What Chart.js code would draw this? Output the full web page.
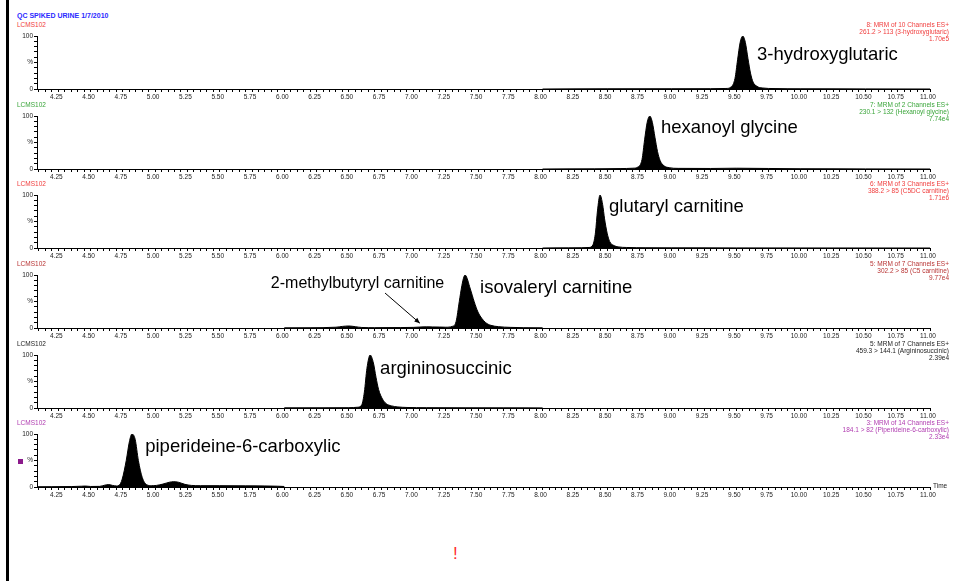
<!DOCTYPE html>
<html>
<head>
<meta charset="utf-8">
<script src="https://cdn.jsdelivr.net/npm/chart.js@4.4.1/dist/chart.umd.min.js"></script>
<style>
  html, body { margin: 0; padding: 0; background: #fff; }
  #page { position: relative; width: 953px; height: 581px; overflow: hidden; font-family: "Liberation Sans", Arial, sans-serif; }
  #frame { position: absolute; left: 6px; top: 0; width: 3px; height: 581px; background: #000; }
  .title { position: absolute; left: 17px; top: 12px; font-size: 7px; font-weight: bold; color: #2a2aff; line-height: 8px; white-space: nowrap; }
  .inst { position: absolute; left: 17px; font-size: 6.5px; line-height: 7px; white-space: nowrap; }
  .channel { position: absolute; right: 4px; font-size: 6.5px; line-height: 7px; text-align: right; white-space: nowrap; }
  .compound { position: absolute; line-height: 1; white-space: nowrap; color: #000; }
  .time { position: absolute; left: 933px; font-size: 6.5px; line-height: 7px; color: #222; }
  .marker { position: absolute; left: 18px; top: 459px; width: 5px; height: 5px; background: #8b1a8b; }
  .bang { position: absolute; left: 453px; top: 545px; font-size: 17px; line-height: 1; color: #ff2a2a; }
  canvas { position: absolute; left: 0; }
</style>
</head>
<body>
<div id="page">
  <div id="frame"></div>
  <div class="title">QC SPIKED URINE 1/7/2010</div>
  <div class="marker"></div>
  <div class="bang">!</div>
</div>
<script>
const xMin = 4.085;
const xMax = 11.0;

// 3-hydroxyglutaric, 261.2 > 113
const hgTimes = [8.00, 8.50, 9.00, 9.30, 9.42, 9.46, 9.49, 9.51, 9.53, 9.55, 9.57, 9.59, 9.61, 9.63, 9.66, 9.70, 9.80, 10.00, 10.50, 11.00];
const hgValues = [0, 0.4, 0.5, 0.6, 1, 4, 20, 55, 88, 100, 88, 58, 30, 13, 5, 2, 0.8, 0.4, 0.2, 0];

// hexanoyl glycine, 230.1 > 132
const hxTimes = [8.00, 8.40, 8.60, 8.70, 8.74, 8.77, 8.79, 8.81, 8.83, 8.85, 8.87, 8.89, 8.91, 8.94, 8.98, 9.05, 9.30, 9.50, 9.75, 10.00, 10.50, 11.00];
const hxValues = [0, 0.3, 0.8, 1.5, 4, 18, 55, 88, 100, 88, 60, 33, 16, 6, 2.5, 1.2, 1, 1.5, 1, 0.5, 0.2, 0];

// glutaryl carnitine, 388.2 > 85
const glTimes = [8.00, 8.20, 8.30, 8.36, 8.39, 8.41, 8.425, 8.445, 8.465, 8.48, 8.50, 8.52, 8.55, 8.59, 8.65, 8.80, 9.00, 9.50, 10.00, 11.00];
const glValues = [0, 0.3, 0.5, 1, 6, 30, 70, 100, 82, 55, 28, 12, 5, 2, 1, 0.5, 0.3, 0.2, 0.1, 0];

// isovaleryl carnitine, 302.2 > 85
const ivTimes = [6.00, 6.20, 6.40, 6.45, 6.50, 6.55, 6.60, 6.70, 6.90, 7.00, 7.05, 7.10, 7.15, 7.20, 7.25, 7.30, 7.33, 7.355, 7.375, 7.39, 7.40, 7.415, 7.435, 7.455, 7.47, 7.50, 7.53, 7.56, 7.60, 7.66, 7.75, 7.85, 8.00];
const ivValues = [0.3, 0.5, 1.5, 3, 3.8, 2.5, 1, 0.6, 0.8, 1.2, 1.8, 2.2, 2, 1.8, 1.5, 3, 12, 50, 80, 96, 100, 94, 78, 62, 50, 30, 18, 10, 5, 2.5, 1.2, 0.6, 0.3];

// argininosuccinic, 459.3 > 144.1
const agTimes = [6.00, 6.30, 6.50, 6.57, 6.60, 6.62, 6.64, 6.665, 6.69, 6.71, 6.73, 6.76, 6.79, 6.83, 6.88, 6.95, 7.10, 7.40, 7.70, 8.00];
const agValues = [0.3, 0.4, 0.6, 1.5, 6, 30, 75, 100, 85, 58, 35, 17, 8, 4, 2, 1, 0.6, 0.4, 0.3, 0.2];

// piperideine-6-carboxylic, 184.1 > 82
const ppTimes = [4.085, 4.20, 4.35, 4.43, 4.46, 4.50, 4.57, 4.61, 4.64, 4.67, 4.70, 4.72, 4.745, 4.776, 4.80, 4.82, 4.845, 4.87, 4.90, 4.937, 4.97, 5.01, 5.06, 5.11, 5.14, 5.18, 5.23, 5.28, 5.35, 5.50, 5.70, 5.85, 5.95, 6.00];
const ppValues = [0.5, 0.6, 0.8, 1.5, 1.8, 1, 1.2, 3.5, 4.5, 3, 2, 3, 15, 50, 85, 100, 90, 50, 18, 4, 2.5, 3, 5.5, 9, 10, 9, 5, 3, 2.5, 2.5, 2.2, 2, 1.5, 1];

const instrumentNames = ['LCMS102', 'LCMS102', 'LCMS102', 'LCMS102', 'LCMS102', 'LCMS102'];
const channelTitles = ['8: MRM of 10 Channels ES+', '7: MRM of 2 Channels ES+', '6: MRM of 3 Channels ES+', '5: MRM of 7 Channels ES+', '5: MRM of 7 Channels ES+', '3: MRM of 14 Channels ES+'];
const channelTransitions = ['261.2 > 113 (3-hydroxyglutaric)', '230.1 > 132 (Hexanoyl glycine)', '388.2 > 85 (C5DC carnitine)', '302.2 > 85 (C5 carnitine)', '459.3 > 144.1 (Argininosuccinic)', '184.1 > 82 (Piperideine-6-carboxylic)'];
const channelIntensities = ['1.70e5', '7.74e4', '1.71e6', '9.77e4', '2.39e4', '2.33e4'];
const compoundNames = ['3-hydroxyglutaric', 'hexanoyl glycine', 'glutaryl carnitine', 'isovaleryl carnitine', 'argininosuccinic', 'piperideine-6-carboxylic'];
const minorLabel = '2-methylbutyryl carnitine';

const panels = [
  { times: hgTimes, values: hgValues, top: 36, color: '#f03c3c', anchor: [9.66, 52.8] },
  { times: hxTimes, values: hxValues, top: 116, color: '#3aa53a', anchor: [8.917, 67] },
  { times: glTimes, values: glValues, top: 195, color: '#f03c3c', anchor: [8.515, 66] },
  { times: ivTimes, values: ivValues, top: 275, color: '#b83434', anchor: [7.516, 65],
    note: { text: minorLabel, anchor: [5.896, 74.5], size: 16 }, arrowFrom: [6.78, 66], arrowTo: [7.05, 9] },
  { times: agTimes, values: agValues, top: 355, color: '#222222', anchor: [6.742, 63] },
  { times: ppTimes, values: ppValues, top: 434, color: '#b03cb0', anchor: [4.923, 64.7], time: true },
];

const plotHeight = 53;
const padTop = 8;
const axisHeight = 14;
const fontFamily = '"Liberation Sans", Arial, sans-serif';
const page = document.getElementById('page');

function isMajor(v) {
  return v > 4.1 && Math.abs(v * 4 - Math.round(v * 4)) < 1e-6;
}

const arrowPlugin = {
  id: 'arrow',
  afterDraw(chart) {
    const panel = chart.options.plugins.arrow.panel;
    if (!panel.arrowFrom) return;
    const { x, y } = chart.scales;
    const x0 = x.getPixelForValue(panel.arrowFrom[0]);
    const y0 = y.getPixelForValue(panel.arrowFrom[1]);
    const x1 = x.getPixelForValue(panel.arrowTo[0]);
    const y1 = y.getPixelForValue(panel.arrowTo[1]);
    const ang = Math.atan2(y1 - y0, x1 - x0);
    const ctx = chart.ctx;
    ctx.save();
    ctx.strokeStyle = '#000';
    ctx.fillStyle = '#000';
    ctx.lineWidth = 1;
    ctx.beginPath();
    ctx.moveTo(x0, y0);
    ctx.lineTo(x1, y1);
    ctx.stroke();
    ctx.beginPath();
    ctx.moveTo(x1, y1);
    ctx.lineTo(x1 - 6 * Math.cos(ang - 0.4), y1 - 6 * Math.sin(ang - 0.4));
    ctx.lineTo(x1 - 6 * Math.cos(ang + 0.4), y1 - 6 * Math.sin(ang + 0.4));
    ctx.closePath();
    ctx.fill();
    ctx.restore();
  },
};

function addText(cls, text, css) {
  const el = document.createElement('div');
  el.className = cls;
  el.textContent = text;
  Object.assign(el.style, css);
  page.appendChild(el);
  return el;
}

function placeLabel(chart, canvasTop, text, anchor, size) {
  const left = chart.scales.x.getPixelForValue(anchor[0]);
  const base = canvasTop + chart.scales.y.getPixelForValue(anchor[1]);
  addText('compound', text, { left: left + 'px', top: (base - 0.85 * size) + 'px', fontSize: size + 'px' });
}

panels.forEach((panel, i) => {
  const canvasTop = panel.top - padTop;
  const canvas = document.createElement('canvas');
  canvas.width = 953;
  canvas.height = padTop + plotHeight + axisHeight;
  canvas.style.top = canvasTop + 'px';
  page.appendChild(canvas);

  addText('inst', instrumentNames[i], { top: (panel.top - 15) + 'px', color: panel.color });
  const ch = addText('channel', '', { top: (panel.top - 15) + 'px', color: panel.color });
  [channelTitles[i], channelTransitions[i], channelIntensities[i]].forEach((line) => {
    const row = document.createElement('div');
    row.textContent = line;
    ch.appendChild(row);
  });

  const chart = new Chart(canvas, {
    type: 'line',
    data: {
      datasets: [{
        data: panel.times.map((t, k) => ({ x: t, y: panel.values[k] })),
        borderColor: '#000',
        backgroundColor: '#000',
        borderWidth: 1,
        fill: 'origin',
        pointRadius: 0,
        cubicInterpolationMode: 'monotone',
      }],
    },
    options: {
      responsive: false,
      animation: false,
      devicePixelRatio: 1,
      layout: { padding: { top: padTop, right: 23, left: 0, bottom: 0 } },
      plugins: { legend: { display: false }, tooltip: { enabled: false }, arrow: { panel } },
      scales: {
        x: {
          type: 'linear',
          min: xMin,
          max: xMax,
          border: { color: '#000', width: 1 },
          grid: { drawOnChartArea: false, drawTicks: true, tickLength: 3, color: '#000' },
          ticks: {
            stepSize: 0.05,
            autoSkip: false,
            includeBounds: false,
            maxRotation: 0,
            minRotation: 0,
            padding: 1,
            labelOffset: -2,
            color: '#222',
            font: { size: 6.5, family: fontFamily },
            callback: (v) => (isMajor(v) ? Number(v).toFixed(2) : ''),
          },
          afterFit: (scale) => { scale.height = axisHeight; },
        },
        y: {
          min: 0,
          max: 100,
          border: { color: '#000', width: 1 },
          grid: { drawOnChartArea: false, drawTicks: true, tickLength: 3, color: '#000' },
          ticks: {
            stepSize: 10,
            autoSkip: false,
            padding: 1,
            color: '#222',
            font: { size: 6.5, family: fontFamily },
            callback: (v) => (v === 100 ? '100' : v === 0 ? '0' : v === 50 ? '%' : ''),
          },
          afterFit: (scale) => { scale.width = 37; },
        },
      },
    },
    plugins: [arrowPlugin],
  });

  placeLabel(chart, canvasTop, compoundNames[i], panel.anchor, 18.5);
  if (panel.note) placeLabel(chart, canvasTop, panel.note.text, panel.note.anchor, panel.note.size);
  if (panel.time) addText('time', 'Time', { top: (panel.top + plotHeight - 5) + 'px' });
});
</script>
</body>
</html>
